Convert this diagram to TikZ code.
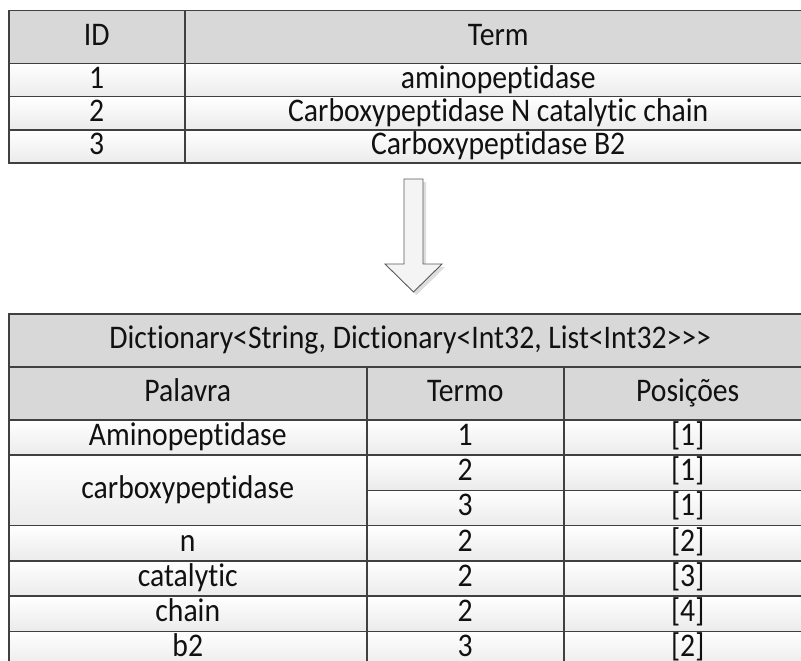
\documentclass[tikz,border=0pt]{standalone}
\usepackage{fontspec}
\newfontfamily\cellfont[FakeStretch=0.9,Ligatures=NoCommon]{Carlito}
\definecolor{cellline}{HTML}{404040}
\definecolor{headfill}{HTML}{D8D8D8}
\definecolor{datafill}{HTML}{EBEBEB}
\definecolor{textcol}{HTML}{111111}
\definecolor{arrowline}{HTML}{5A5A5A}
\definecolor{arrowfill}{HTML}{F4F4F4}
\definecolor{arrowshade}{HTML}{DDDDDD}
\begin{document}
\begin{tikzpicture}[x=1pt,y=-1pt,
  cell/.style={draw=cellline, line width=1.5pt, inner sep=0pt, anchor=north west,
    font=\cellfont\fontsize{33}{33}\selectfont, text=textcol,
    text height=20.5pt, text depth=4.5pt},
  headcell/.style={cell, fill=headfill},
  datacell/.style={cell, top color=white, bottom color=datafill},
  bigarrow/.style={draw=arrowline, line width=0.9pt, fill=arrowfill, line join=miter},
  arrowshadow/.style={fill=arrowshade},
]
\useasboundingbox (0,0) rectangle (801,661);
\clip (0,0) rectangle (801,661);

% ---- source table: ID / Term ----
\node[headcell, minimum width=176pt, minimum height=53pt] (hid)   at (8,10)   {ID};
\node[headcell, minimum width=627pt, minimum height=53pt] (hterm) at (184,10) {Term};
\node[datacell, minimum width=176pt, minimum height=33pt] (id1) at (8,63)    {1};
\node[datacell, minimum width=627pt, minimum height=33pt] (t1)  at (184,63)  {aminopeptidase};
\node[datacell, minimum width=176pt, minimum height=33pt] (id2) at (8,96)    {2};
\node[datacell, minimum width=627pt, minimum height=33pt] (t2)  at (184,96)  {Carboxypeptidase N catalytic chain};
\node[datacell, minimum width=176pt, minimum height=33pt] (id3) at (8,129)   {3};
\node[datacell, minimum width=627pt, minimum height=33pt] (t3)  at (184,129) {Carboxypeptidase B2};

% ---- block arrow with soft shadow ----
\fill[arrowshadow] (407,182) -- (426,182) -- (426,267) -- (445,267) -- (416.5,295)
  -- (388,267) -- (407,267) -- cycle;
\draw[bigarrow] (404,179) -- (423,179) -- (423,264) -- (442,264) -- (413.5,292)
  -- (385,264) -- (404,264) -- cycle;

% ---- inverted index table ----
\node[headcell, minimum width=803pt, minimum height=53pt] (title) at (8,313)
  {Dictionary<String, Dictionary<Int32, List<Int32>>>};
\node[headcell, minimum width=358pt, minimum height=53pt] (hpal) at (8,366)   {Palavra};
\node[headcell, minimum width=197pt, minimum height=53pt] (hter) at (366,366) {Termo};
\node[headcell, minimum width=248pt, minimum height=53pt] (hpos) at (563,366) {Posições};

\node[datacell, minimum width=358pt, minimum height=35.25pt] (w1) at (8,419)   {Aminopeptidase};
\node[datacell, minimum width=197pt, minimum height=35.25pt] (d1) at (366,419) {1};
\node[datacell, minimum width=248pt, minimum height=35.25pt] (p1) at (563,419) {[1]};

\node[datacell, minimum width=358pt, minimum height=70.5pt]  (w2) at (8,454.25)   {carboxypeptidase};
\node[datacell, minimum width=197pt, minimum height=35.25pt] (d2) at (366,454.25) {2};
\node[datacell, minimum width=248pt, minimum height=35.25pt] (p2) at (563,454.25) {[1]};
\node[datacell, minimum width=197pt, minimum height=35.25pt] (d3) at (366,489.5)  {3};
\node[datacell, minimum width=248pt, minimum height=35.25pt] (p3) at (563,489.5)  {[1]};

\node[datacell, minimum width=358pt, minimum height=35.25pt] (w4) at (8,524.75)   {n};
\node[datacell, minimum width=197pt, minimum height=35.25pt] (d4) at (366,524.75) {2};
\node[datacell, minimum width=248pt, minimum height=35.25pt] (p4) at (563,524.75) {[2]};

\node[datacell, minimum width=358pt, minimum height=35.25pt] (w5) at (8,560)   {catalytic};
\node[datacell, minimum width=197pt, minimum height=35.25pt] (d5) at (366,560) {2};
\node[datacell, minimum width=248pt, minimum height=35.25pt] (p5) at (563,560) {[3]};

\node[datacell, minimum width=358pt, minimum height=35.25pt] (w6) at (8,595.25)   {chain};
\node[datacell, minimum width=197pt, minimum height=35.25pt] (d6) at (366,595.25) {2};
\node[datacell, minimum width=248pt, minimum height=35.25pt] (p6) at (563,595.25) {[4]};

\node[datacell, minimum width=358pt, minimum height=35.25pt] (w7) at (8,630.5)   {b2};
\node[datacell, minimum width=197pt, minimum height=35.25pt] (d7) at (366,630.5) {3};
\node[datacell, minimum width=248pt, minimum height=35.25pt] (p7) at (563,630.5) {[2]};
\end{tikzpicture}
\end{document}
